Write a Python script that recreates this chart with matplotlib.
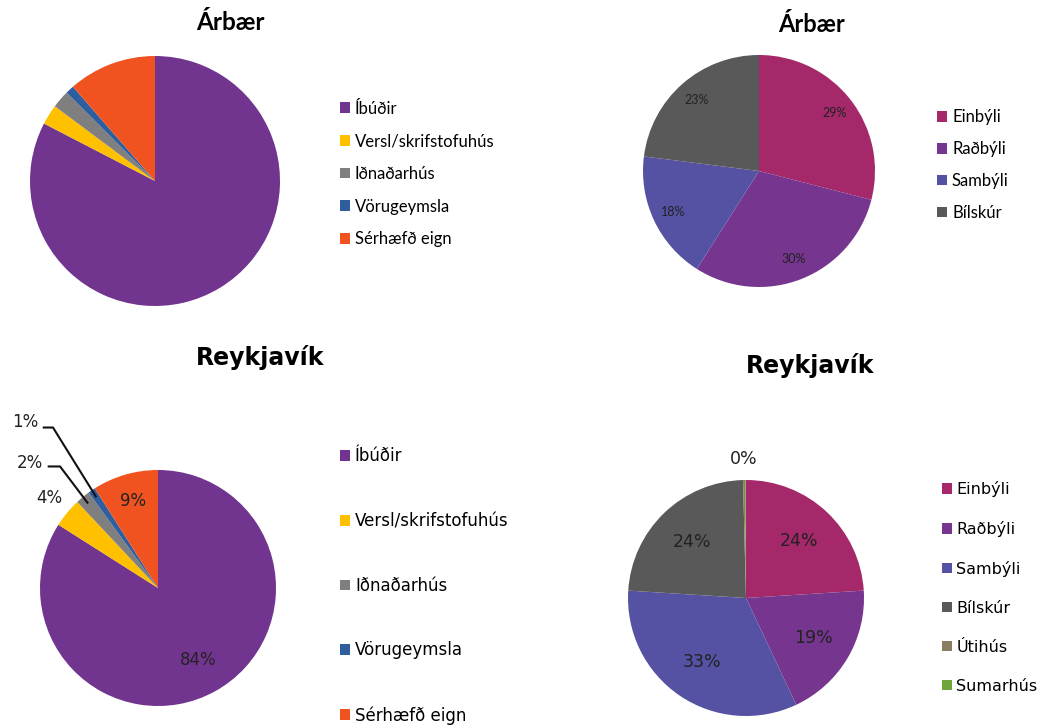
import numpy as np
import matplotlib
matplotlib.use("Agg")
import matplotlib.pyplot as plt
import matplotlib.patches as mpatches

# data
eign_labels = ['Íbúðir', 'Versl/skrifstofuhús', 'Iðnaðarhús', 'Vörugeymsla', 'Sérhæfð eign']
eign_colors = ['#71358F', '#FFC000', '#7F7F7F', '#2E5E9E', '#F0531F']
arbaer_eign = [82.6, 2.6, 2.3, 1.1, 11.4]
rvk_eign = [84, 4, 2, 1, 9]

ibud_labels = ['Einbýli', 'Raðbýli', 'Sambýli', 'Bílskúr', 'Útihús', 'Sumarhús']
ibud_colors = ['#A4286A', '#76358F', '#5652A3', '#595959', '#8B7D5F', '#6FA53B']
arbaer_ibud = [29, 30, 18, 23]
rvk_ibud = [24, 19, 33, 23.6, 0.3, 0.1]

W, H = 1046, 727
fig = plt.figure(figsize=(W / 100, H / 100), dpi=100)

TOP = 'Lato'
BOT = 'DejaVu Sans'


def pie_ax(cx, cy, r):
    ax = fig.add_axes([(cx - r) / W, (H - cy - r) / H, 2 * r / W, 2 * r / H])
    return ax


def draw_pie(ax, vals, colors):
    wedges, _ = ax.pie(vals, colors=colors, startangle=90, counterclock=False,
                       radius=1, wedgeprops=dict(linewidth=0))
    ax.set_xlim(-1, 1)
    ax.set_ylim(-1, 1)
    ax.set_aspect('equal')
    ax.axis('off')
    return wedges


def mid_point(w, dist):
    ang = np.deg2rad((w.theta1 + w.theta2) / 2)
    return dist * np.cos(ang), dist * np.sin(ang)


def legend(ax, labels, colors, x, y, fs, spacing, family):
    handles = [mpatches.Patch(facecolor=c, label=l) for l, c in zip(labels, colors)]
    fig.legend(handles=handles, loc='center left', bbox_to_anchor=(x / W, 1 - y / H),
               frameon=False, prop=dict(family=family, size=fs),
               handlelength=0.6, handleheight=0.6, handletextpad=0.3,
               labelspacing=spacing, borderpad=0, borderaxespad=0)


# top left
ax1 = pie_ax(155, 181, 125)
draw_pie(ax1, arbaer_eign, eign_colors)
fig.text(230 / W, 1 - 22 / H, 'Árbær', ha='center', va='center', fontsize=17.5,
         fontweight='bold', family=TOP)
legend(ax1, eign_labels, eign_colors, 340, 174, 12, 1.0, TOP)

# top right
ax2 = pie_ax(759, 171, 116)
w2 = draw_pie(ax2, arbaer_ibud, ibud_colors[:4])
for w, v in zip(w2, arbaer_ibud):
    x, y = mid_point(w, 0.82)
    ax2.text(x, y, f'{v:.0f}%', ha='center', va='center', fontsize=9, family=TOP,
             color='#222222')
fig.text(812 / W, 1 - 25 / H, 'Árbær', ha='center', va='center', fontsize=17,
         fontweight='bold', family=TOP)
legend(ax2, ibud_labels[:4], ibud_colors[:4], 937, 165, 12, 0.95, TOP)

# bottom left
ax3 = pie_ax(158, 588, 118)
w3 = draw_pie(ax3, rvk_eign, eign_colors)
dists = [0.7, 1.19, None, None, 0.77]
for w, v, d in zip(w3, rvk_eign, dists):
    if d is None:
        continue
    x, y = mid_point(w, d)
    ax3.text(x, y, f'{v}%', ha='center', va='center', fontsize=12, family=BOT,
             color='#222222')
# leader lines for the small slices
for i, tx, ty, ex, ey in [(2, -1.085, 1.06, -0.83, 1.03), (3, -1.127, 1.407, -0.89, 1.36)]:
    px, py = mid_point(w3[i], 0.93)
    ax3.text(tx, ty, f'{rvk_eign[i]}%', ha='center', va='center', fontsize=12,
             family=BOT, color='#222222')
    ax3.plot([tx + 0.15, ex, px], [ey, ey, py], color='#111111', lw=1.5,
             clip_on=False, solid_capstyle='butt')
fig.text(260 / W, 1 - 357 / H, 'Reykjavík', ha='center', va='center', fontsize=17,
         fontweight='bold', family=BOT)
legend(ax3, eign_labels, eign_colors, 340, 586, 12, 2.8, BOT)

# bottom right
ax4 = pie_ax(746, 598, 118)
w4 = draw_pie(ax4, rvk_ibud, ibud_colors)
for w, v in zip(w4[:4], rvk_ibud[:4]):
    x, y = mid_point(w, 0.66)
    ax4.text(x, y, f'{v:.0f}%', ha='center', va='center', fontsize=12.5, family=BOT,
             color='#222222')
x, y = mid_point(w4[4], 1.18)
ax4.text(x, y, f'{rvk_ibud[4]:.0f}%', ha='center', va='center', fontsize=12.5,
         family=BOT, color='#222222')
fig.text(810 / W, 1 - 365 / H, 'Reykjavík', ha='center', va='center', fontsize=17,
         fontweight='bold', family=BOT)
legend(ax4, ibud_labels, ibud_colors, 942, 587.5, 11.5, 1.5, BOT)

fig.savefig('out.png', dpi=100)
